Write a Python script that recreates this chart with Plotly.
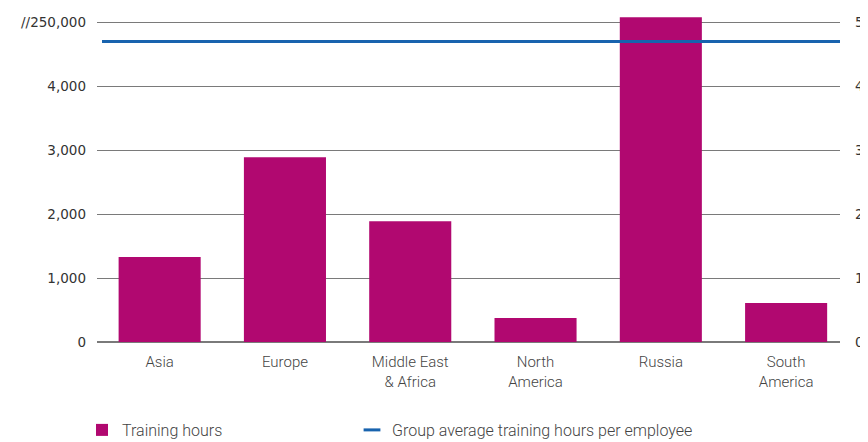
import plotly.graph_objects as go

categories = ["Asia", "Europe", "Middle East<br>& Africa", "North<br>America", "Russia", "South<br>America"]
# Training hours as drawn (left axis is broken above 5,000: Russia bar runs past the //250,000 mark)
training_hours = [1330, 2890, 1890, 375, 5080, 610]
group_avg_hours = 47
left_tickvals = [0, 1000, 2000, 3000, 4000, 5000]
left_ticktext = ["0", "1,000", "2,000", "3,000", "4,000", "//250,000"]
right_tickvals = [0, 10, 20, 30, 40, 50]
right_ticktext = ["0", "10", "20", "30", "40", "50"]
line_x = [-0.46, 5.43]

BAR = "#B10870"
BLUE = "#1863AE"
GRID = "#7a7a7a"
TXT = "#333333"

# page body has an 8px margin, so the figure is drawn 8px in from the window corner
W, H = 868, 434

x_idx = list(range(len(categories)))

fig = go.Figure()
fig.add_trace(go.Bar(
    x=x_idx, y=training_hours, name="Training hours",
    marker=dict(color=BAR, line=dict(width=0)), width=0.655,
    showlegend=True, yaxis="y", legend="legend",
))
fig.add_trace(go.Scatter(
    x=line_x, y=[group_avg_hours] * 2, mode="lines",
    line=dict(color=BLUE, width=3), yaxis="y2", showlegend=False,
    name="Group average training hours per employee",
))
fig.add_trace(go.Scatter(
    x=[None], y=[None], mode="markers", yaxis="y2",
    marker=dict(symbol="line-ew-open", size=12, color=BLUE, line=dict(color=BLUE, width=3)),
    name="Group average training hours per employee", showlegend=True,
    legend="legend2",
))

ymax = 5100
legend_common = dict(
    orientation="h", xanchor="left", xref="container",
    y=12 / H, yanchor="middle", yref="container",
    font=dict(family="Roboto", size=16, color="#444444", weight=300),
    bgcolor="rgba(0,0,0,0)",
)
fig.update_layout(
    width=W, height=H,
    margin=dict(l=89, r=W - 832, t=H - 100 - ymax * 0.064, b=100, autoexpand=False),
    paper_bgcolor="white", plot_bgcolor="white",
    font=dict(family="DejaVu Sans", color=TXT, size=13),
    bargap=0.35,
    xaxis=dict(
        range=[-0.5, 5.43], tickvals=x_idx, ticktext=categories,
        showgrid=False, zeroline=False, showline=False, ticks="",
        tickfont=dict(family="Roboto", size=15, color="#444444", weight=300),
        ticklabelstandoff=9, automargin=False,
    ),
    yaxis=dict(
        range=[0, ymax], tickvals=left_tickvals, ticktext=left_ticktext,
        showgrid=True, gridcolor=GRID, gridwidth=1,
        zeroline=True, zerolinecolor=GRID, zerolinewidth=1.5,
        showline=False, ticks="", ticklabelstandoff=10, automargin=False,
        tickfont=dict(family="DejaVu Sans", size=13.5, color=TXT),
    ),
    yaxis2=dict(
        range=[0, ymax / 100], overlaying="y", side="right",
        tickvals=right_tickvals, ticktext=right_ticktext,
        showgrid=False, zeroline=False, showline=False, ticks="",
        ticklabelstandoff=14, automargin=False,
        tickfont=dict(family="DejaVu Sans", size=13.5, color=TXT),
    ),
    legend=dict(x=74 / W, **legend_common),
    legend2=dict(x=344 / W, **legend_common),
)

fig.write_html("out.html")
